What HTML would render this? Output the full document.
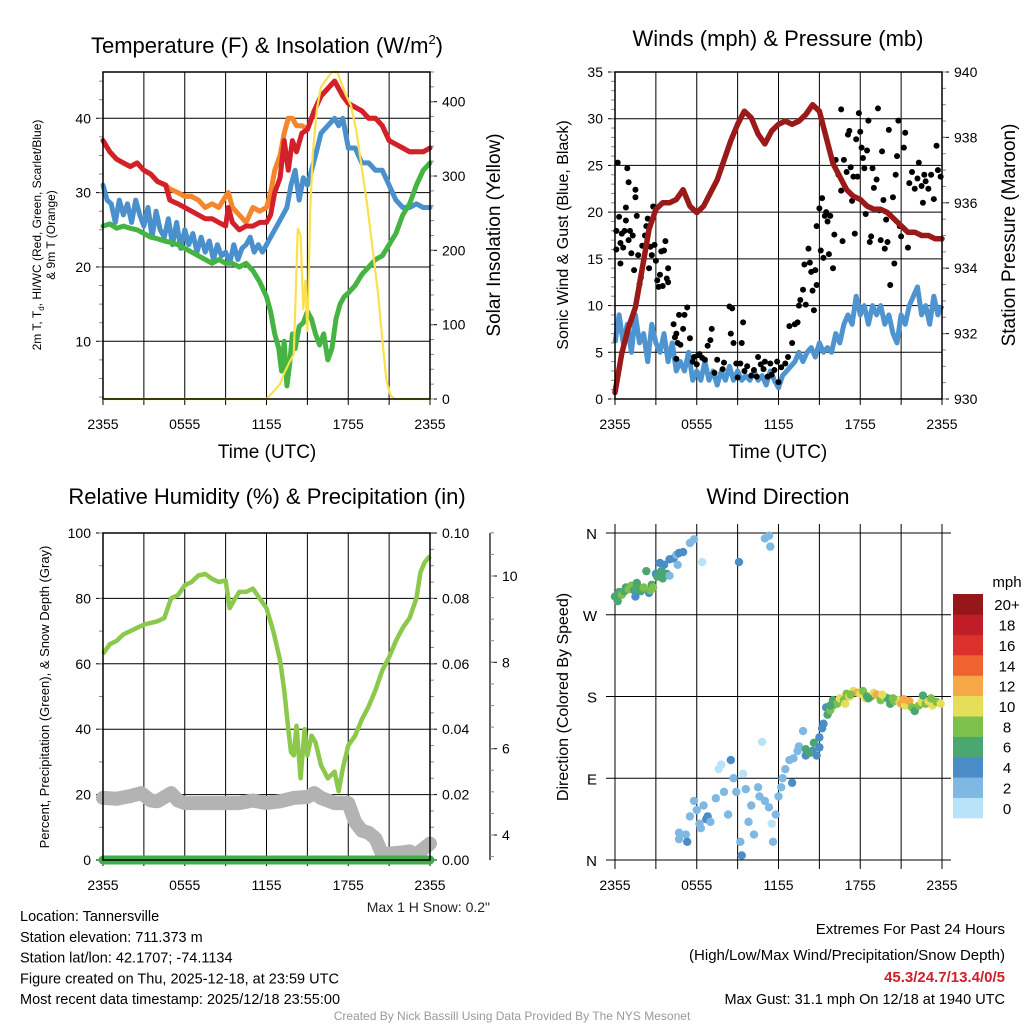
<!DOCTYPE html>
<html><head><meta charset="utf-8"><style>
html,body{margin:0;padding:0;background:#fff;}
svg{display:block;font-family:"Liberation Sans",Arial,sans-serif;}
</style></head><body>
<svg id="s" width="1024" height="1024" viewBox="0 0 1024 1024" xmlns="http://www.w3.org/2000/svg"></svg>
<script>
// ---------- DATA ----------
const timeTicks=["2355","0555","1155","1755","2355"];
// Panel 1 (hours since 2355, value)
const tRedH=[0,0.5,1,1.5,2,2.5,3,3.5,4,4.6,4.9,5.5,6,6.5,7,7.5,8,8.5,9,9.2,9.5,10,10.5,11,11.5,12,12.3,12.6,13,13.3,13.6,13.9,14.2,14.6,15,15.5,16,16.5,17,17.3,17.6,18,18.5,19,19.5,20,20.5,21,21.5,22,22.5,23,23.5,24];
const tRed=[37,35.5,34.5,34,33.5,34,33,32.5,31.5,31,29,28.5,28,27.5,27,26.5,26.5,26,25.5,28,26,25,25.5,25.5,26,26,27,30,32,37,33,37,35.5,38,38.5,41,43,44,45,44,43,42,41.5,41,40,40,39,37,36.5,36,35.5,35.5,35.5,36];
const tOrange=[37,35.5,34.5,34,33.5,34,33,32.5,31.5,31,30.5,30,29.5,29.5,29,28,28.5,28,29.5,30,28,27,26,28,27.5,28,30,33,35,38,40,40,39,39,38.5,41,43,44,45,44,43,42,41.5,41,40,40,39,37,36.5,36,35.5,35.5,35.5,36];
const tBlueH=[0,0.3,0.6,0.9,1.2,1.5,1.8,2.1,2.4,2.7,3,3.3,3.6,3.9,4.2,4.5,4.8,5.1,5.4,5.7,6,6.3,6.6,6.9,7.2,7.5,7.8,8.1,8.4,8.7,9,9.3,9.6,9.9,10.2,10.5,10.8,11.1,11.4,11.7,12,12.3,12.6,12.9,13.2,13.5,13.8,14.1,14.4,14.7,15,15.3,15.6,16,16.5,17,17.3,17.6,18,18.5,19,19.5,20,20.5,21,21.5,22,22.5,23,23.5,24];
const tBlue=[31,29,28.5,26,29,27,28.5,26,29,27,25.5,28,24,27.5,25,24,26.5,23,26,22.5,25,23,24.5,22,24,22,23.5,21,23,21.5,22,20.5,23,21,22.5,23,24,22,23,22,23,24,25,26,27,28,31,33,29,32,31,33,35,38,39,40,39,40,36,36,34,34,33,33,31,29,28,28,28.5,28,28];
const tGreenH=[0,0.5,1,1.5,2,2.5,3,3.5,4,4.5,5,5.5,6,6.5,7,7.5,8,8.5,9,9.5,10,10.5,11,11.5,12,12.3,12.6,12.9,13.1,13.3,13.5,13.7,13.9,14.1,14.4,14.7,15,15.3,15.6,15.9,16.2,16.5,16.8,17.1,17.4,17.7,18,18.5,19,19.5,20,20.5,21,21.5,22,22.5,23,23.5,24];
const tGreen=[25.5,25.8,25.2,25.5,25.2,25,24.5,24,23.8,23.5,23.3,23,22.5,22,21.5,21,20.5,21,20.5,20.5,20,20.5,19.5,18,16,14,11,9,6,10,4,7,11,9,12,12.5,14,13,11,9.5,11,7.5,9,13,15,16,16.5,17.5,19,20,21,21.5,23,24.5,27,28.5,31,33,34];
const solH=[0,12,12.5,13,13.3,13.7,14,14.3,14.5,14.7,14.85,15,15.2,15.4,15.7,16,16.4,16.8,17.2,17.5,17.8,18.2,18.6,19,19.4,19.8,20.2,20.5,20.8,21.1,21.4,24];
const sol=[0,0,10,20,35,50,60,230,220,120,160,90,250,330,390,420,430,440,440,425,410,395,360,310,260,200,140,80,25,5,0,0];
// Panel 2
const presH=[0,0.5,1,1.5,2,2.5,3,3.5,4,4.5,5,5.5,6,6.5,7,7.5,8,8.5,9,9.5,10,10.5,11,11.5,12,12.5,13,13.5,14,14.5,15,15.5,16,16.5,17,17.5,18,18.5,19,19.5,20,20.5,21,21.5,22,22.5,23,23.5,24];
const pres=[930.2,931.4,932.2,932.8,934.0,935.2,935.8,936.0,936.0,936.1,936.4,935.9,935.7,935.9,936.3,936.7,937.3,937.9,938.4,938.8,938.6,938.1,937.8,938.2,938.4,938.5,938.4,938.5,938.7,939.0,938.8,938.0,937.2,936.8,936.4,936.2,936.1,935.9,935.8,935.8,935.7,935.5,935.3,935.1,935.1,935.0,935.0,934.9,934.9];
const windH=[0,0.3,0.6,0.9,1.2,1.5,1.8,2.1,2.4,2.7,3,3.3,3.6,3.9,4.2,4.5,4.8,5.1,5.4,5.7,6,6.3,6.6,6.9,7.2,7.5,7.8,8.1,8.4,8.7,9,9.3,9.6,9.9,10.2,10.5,10.8,11.1,11.4,11.7,12,12.3,12.6,12.9,13.2,13.5,13.8,14.1,14.4,14.7,15,15.3,15.6,15.9,16.2,16.5,16.8,17.1,17.4,17.7,18,18.3,18.6,18.9,19.2,19.5,19.8,20.1,20.4,20.7,21,21.3,21.6,21.9,22.2,22.5,22.8,23.1,23.4,23.7,24];
const wind=[6,9,6,8,5,9,6,7,4,8,6,5,7,4,6,3,4,3,5,2,3,2,4,2,3,1.5,3,2,3.5,2,3,2,2.5,2,3,2,2.5,1.5,3,2,1.2,2.5,3,3.5,4,5,4,5,5.5,4.5,6,5,5.5,5,7,6,8,9,8,11,9,10,8,10,9,10,8,9,7,6,9,8,10,11,12,9,10,8,11,9,10];
const gustH=[0.1,0.1,0.2,0.3,0.4,0.4,0.5,0.6,0.7,0.8,0.8,0.9,1,1,1.1,1.2,1.3,1.4,1.5,1.5,1.6,1.7,1.8,1.9,2,2.2,2.3,2.4,2.5,2.6,2.7,2.8,2.9,3,3.1,3.2,3.3,3.4,3.5,3.6,3.7,3.8,3.9,3.9,4.3,4.4,4.5,4.5,4.6,4.7,4.8,5,5.1,5.3,5.5,5.7,5.8,6,6.1,6.2,6.4,6.6,6.8,7,7.1,7.3,7.5,7.9,8,8.4,8.6,8.5,8.7,8.9,9,9.2,9.3,9.4,9.5,9.7,10,10.2,10.4,10.5,10.7,10.9,11,11.2,11.4,11.5,11.7,11.9,12,12.2,12.5,12.7,12.8,13,13.2,13.4,13.5,13.6,13.8,13.9,14,14.2,14.3,14.4,14.5,14.6,14.7,14.8,14.8,15,15.1,15.2,15.3,15.4,15.5,15.6,15.7,15.8,16,16.1,16.2,16.4,16.6,16.6,16.7,16.8,17,17.1,17.2,17.3,17.4,17.5,17.6,17.7,17.8,17.9,18,18.1,18.2,18.3,18.4,18.5,18.6,18.7,18.8,18.9,19,19.2,19.3,19.4,19.5,19.6,19.7,19.8,19.9,20,20.1,20.2,20.4,20.5,20.6,20.7,20.8,20.9,21,21.2,21.3,21.5,21.6,21.8,22,22.2,22.3,22.5,22.6,22.7,22.8,23,23.2,23.4,23.6,23.7,23.9];
const gust=[16,18,25.3,19.5,16.7,14.5,17.7,16.2,18,20.5,19.1,24.7,17,23.2,18,15.6,17.5,13.8,22.4,21.6,19.6,15.4,12.3,13,16.4,17.5,18.5,19.3,14,16.3,15.4,20.6,16.5,14.8,12.7,12,13.3,15.8,12.1,15.9,16.9,12.9,14,12.5,8,6.6,7,4.3,6,9,5.8,7.5,9,9.8,6.5,4,4.5,3.7,4.7,4.8,4.4,4.2,5.7,6.3,7.5,2.8,4.2,3.2,3.9,9.9,9.7,7,6,3.8,2.3,3.8,6,8.2,3,3.5,2.5,3.1,2.4,4.5,3.7,3.2,4,2.4,3.8,2.6,3.1,4,1.8,3.4,3.8,4.5,7.8,6,8,8.2,10,10.6,11.7,14.4,10.1,16.1,14.6,13.6,11.6,9.5,13.8,12.2,18.5,20.4,15.9,21.5,15.1,19.6,20,19,15.5,19.6,14,17.6,25.6,24,22.3,31,16.9,25.6,24.3,28.3,28.7,24.8,21.2,23.8,17.7,27.8,23.8,30.6,28.6,26.9,25.8,24.7,19.8,26.6,29.8,16.8,17.4,24.7,22.6,23.5,31.1,20.2,17,26.5,21.3,16.1,19.2,16.8,28.8,12.2,21.6,14.5,24,26,29.8,18.5,17.4,26.9,28.5,16.2,23.1,24.3,22.5,23.6,25.3,22.8,21,24,23.3,22.5,24,21.4,27.1,24.5,23.8];
// Panel 3
const rhH=[0,0.5,1,1.5,2,2.5,3,3.5,4,4.5,5,5.5,6,6.5,7,7.5,8,8.5,9,9.3,9.7,10,10.5,11,11.5,12,12.5,13,13.3,13.6,13.8,14,14.2,14.5,14.8,15,15.3,15.6,16,16.5,17,17.3,17.6,18,18.5,19,19.5,20,20.5,21,21.5,22,22.5,23,23.3,23.6,24];
const rh=[63,66,67,69,70,71,72,72.5,73,74,80,81,84,85,87,87.5,86,85,85.5,77,80,82,82,83,80,77,70,61,52,40,33,32,41,25,40,32,38,36,29,25,27,21,28,35,38,43,47,52,58,62,67,71,74,80,88,91,93];
const snowH=[0,1,2,2.8,3.5,4,5,5.5,6,8,10,11,12,13,14,15,15.5,16,17,18,18.5,19,19.5,20,20.5,21,22,22.5,23,24];
const snow=[4.86,4.84,4.9,4.97,4.8,4.78,4.97,4.8,4.74,4.74,4.74,4.8,4.74,4.78,4.86,4.88,4.97,4.86,4.74,4.74,4.3,4.1,4.05,3.92,3.55,3.57,3.6,3.62,3.55,3.8];
const precipH=[0,24];
const precip=[0,0];
// Panel 4
const dirH=[0,0.2,0.3,0.5,0.7,0.8,1,1.2,1.4,1.5,1.6,1.7,1.9,2.1,2.3,2.5,2.6,2.7,2.8,3,3.1,3.3,3.4,3.5,3.6,3.8,4,4,4.3,4.5,4.7,4.6,5,5.5,5.8,6.4,9.1,11,11.3,11.4,4.7,4.7,5.2,5.3,5.5,5.8,6,6.2,6.3,6.5,6.7,6.8,7,7.4,7.6,7.8,8,8.3,8.5,8.7,8.9,9.2,9.3,9.4,9.6,9.8,10,10.2,10.5,10.6,10.8,11,11.3,11.5,11.6,11.8,12,12.2,12.3,12.5,12.8,13,13.1,13.4,13.5,14,14.5,13.8,14,14.3,14.6,14.8,15,15,15.2,15.3,15.5,15.6,15.8,16,16,16.3,16.5,16.8,17,17.2,17.5,17.8,18,18.2,18.4,18.5,18.8,19,19.2,19.5,19.8,20,20.2,20.5,20.8,21,21.3,21.6,21.8,22,22.3,22.5,22.8,23,23.3,23.6,23.9,15.8,16.9,17.3,18.6,19.6,20.4,21.2,22.6,23.2];
const dirDeg=[290,285,295,292,296,300,298,302,297,290,305,300,296,300,318,294,297,303,300,315,312,327,318,310,325,315,313,331,332,336,338,325,339,349,353,328,328,354,357,345,23,30,28,20,48,65,55,40,35,60,45,48,42,68,100,105,75,50,110,90,75,20,5,95,78,42,60,28,80,70,130,65,58,40,20,50,70,80,90,100,110,85,112,120,125,115,120,142,122,118,129,115,124,135,145,150,168,160,165,170,176,172,178,176,183,180,186,184,183,186,178,180,180,184,182,176,180,178,172,175,176,172,170,175,168,164,170,174,172,175,170,174,172,170,172,182,178,182,178,177,181,178];
const dirSpd=[6,7,6,8,7,6,8,8,6,4,6,7,6,8,6,4,8,6,8,4,6,4,6,6,4,6,2,4,4,2,4,2,4,2,2,0,4,2,2,2,2,2,2,4,2,2,2,2,2,2,4,4,2,2,0,0,2,2,4,2,2,2,4,0,2,2,2,2,2,2,0,2,2,0,2,2,2,2,2,2,2,4,2,2,2,4,4,2,6,6,6,4,4,4,4,4,4,6,8,8,6,8,10,8,8,10,10,12,10,8,10,6,8,10,12,8,10,6,6,8,10,12,10,12,8,6,8,10,8,10,10,8,10,6,10,8,6,10,8,12,6,8];
const cbLabels=["0","2","4","6","8","10","12","14","16","18","20+"];
const cbColors=["#b9e3f8","#7fb8e3","#4a8dc7","#4aa772","#7cc14b","#e5de59","#f5a845","#ef6330","#dc302c","#bf1d27","#95161b"];

// ---------- DRAW ----------
const NS="http://www.w3.org/2000/svg";
const svg=document.getElementById('s');
function el(tag,attrs,parent){const e=document.createElementNS(NS,tag);for(const k in attrs)e.setAttribute(k,attrs[k]);(parent||svg).appendChild(e);return e;}
function txt(x,y,s,size,anchor,parent,extra){const t=el('text',Object.assign({x:x,y:y,'font-size':size,'text-anchor':anchor||'middle',fill:'#000'},extra||{}),parent);t.textContent=s;return t;}
function lin(d0,d1,r0,r1){return v=>r0+(v-d0)*(r1-r0)/(d1-d0);}
function pathD(xs,ys,fx,fy){let d='';for(let i=0;i<xs.length;i++)d+=(i?'L':'M')+fx(xs[i]).toFixed(1)+','+fy(ys[i]).toFixed(1);return d;}

function timeAxis(g,x0,x1,yb,fx,yTop){
  for(let h=0;h<=24;h+=3){const x=fx(h);
    const l=el('line',{x1:x,x2:x,y1:yTop,y2:yb+6,stroke:'#000','stroke-width':1},g);
    }
  timeTicks.forEach((s,i)=>{const t=txt(fx(i*6),yb+30,s,14,'middle',g);
    });
}
function yAxis(g,x,ticks,fy,labels,side,minorStep,dmin,dmax,gridX1){
  ticks.forEach((v,i)=>{const y=fy(v);
    if(gridX1!==undefined){const gl=el('line',{x1:x,x2:gridX1,y1:y,y2:y,stroke:'#000','stroke-width':1},g);
      }
    el('line',{x1:x,x2:x+(side<0?-7:7),y1:y,y2:y,stroke:'#000','stroke-width':1},g);
    const t=txt(x+(side<0?-12:12),y+5,labels[i],14,side<0?'end':'start',g);
    });
  if(minorStep){for(let v=Math.ceil(dmin/minorStep)*minorStep;v<=dmax;v+=minorStep){const y=fy(v);
    el('line',{x1:x,x2:x+(side<0?-4:4),y1:y,y2:y,stroke:'#888','stroke-width':1},g);}}
}

// ===== Panel 1 =====
(function(){
  const g=el('g',{});
  const X0=103,X1=430,YT=72,YB=399;
  const fx=lin(0,24,X0,X1), fy=lin(10,40,341.3,118.3), fr=lin(0,400,399,101.7);
  const tt=txt(267,53,'Temperature (F) & Insolation (W/m',22,'middle',g);
  const sup=el('tspan',{'font-size':13,dy:-9},tt);sup.textContent='2';
  const cl=el('tspan',{dy:9},tt);cl.textContent=')';
  
  timeAxis(g,X0,X1,YB,fx,YT);
  yAxis(g,X0,[10,20,30,40],fy,['10','20','30','40'],-1,2.5,2.5,46,X1);
  yAxis(g,X1,[0,100,200,300,400],fr,['0','100','200','300','400'],1,20,0,440);
  const series=[[tOrange,tRedH,'#f5862b','temp-9m-line'],[tRed,tRedH,'#d4202b','temp-2m-line'],[tBlue,tBlueH,'#4990cc','windchill-line'],[tGreen,tGreenH,'#46b443','dewpoint-line']];
  series.forEach(s=>{const p=el('path',{d:pathD(s[1],s[0],fx,fy),fill:'none',stroke:s[2],'stroke-width':5,'stroke-linejoin':'round','stroke-linecap':'round'},g);
    });
  const ps=el('path',{d:pathD(solH,sol,fx,fr),fill:'none',stroke:'#fbe04d','stroke-width':2.2},g);
  
  el('rect',{x:X0,y:YT,width:X1-X0,height:YB-YT,fill:'none',stroke:'#000','stroke-width':1.5},g);
  const lt=el('text',{transform:'translate(41,235) rotate(-90)','font-size':12,'text-anchor':'middle'},g);
  lt.textContent='2m T, T';const sb=el('tspan',{'font-size':8,dy:3},lt);sb.textContent='d';const r=el('tspan',{dy:-3},lt);r.textContent=', HI/WC (Red, Green, Scarlet/Blue)';
  
  const lt2=el('text',{transform:'translate(55,235) rotate(-90)','font-size':12,'text-anchor':'middle'},g);lt2.textContent='& 9m T (Orange)';
  const rt=el('text',{transform:'translate(500,235) rotate(-90)','font-size':19,'text-anchor':'middle'},g);rt.textContent='Solar Insolation (Yellow)';
  
  const xt=txt(267,458,'Time (UTC)',19,'middle',g);
})();

// ===== Panel 2 =====
(function(){
  const g=el('g',{});
  const X0=615,X1=942,YT=72,YB=399;
  const fx=lin(0,24,X0,X1), fy=lin(0,35,YB,YT), fr=lin(930,940,YB,YT);
  const tt=txt(778,46,'Winds (mph) & Pressure (mb)',22,'middle',g);
  timeAxis(g,X0,X1,YB,fx,YT);
  yAxis(g,X0,[0,5,10,15,20,25,30,35],fy,['0','5','10','15','20','25','30','35'],-1,1,0,35,X1);
  yAxis(g,X1,[930,932,934,936,938,940],fr,['930','932','934','936','938','940'],1,0.5,930,940);
  const pw=el('path',{d:pathD(windH,wind,fx,fy),fill:'none',stroke:'#4d94d0','stroke-width':5,'stroke-linejoin':'round'},g);
  
  for(let i=0;i<gustH.length;i++){const c=el('circle',{cx:fx(gustH[i]),cy:fy(gust[i]),r:3,fill:'#000'},g);
    }
  const pp=el('path',{d:pathD(presH,pres,fx,fr),fill:'none',stroke:'#9a1a1a','stroke-width':5.5,'stroke-linejoin':'round','stroke-linecap':'round'},g);
  
  el('rect',{x:X0,y:YT,width:X1-X0,height:YB-YT,fill:'none',stroke:'#000','stroke-width':1.5},g);
  const lt=el('text',{transform:'translate(568,235) rotate(-90)','font-size':16,'text-anchor':'middle'},g);lt.textContent='Sonic Wind & Gust (Blue, Black)';
  
  const rt=el('text',{transform:'translate(1015,235) rotate(-90)','font-size':19,'text-anchor':'middle'},g);rt.textContent='Station Pressure (Maroon)';
  
  const xt=txt(778,458,'Time (UTC)',19,'middle',g);
})();

// ===== Panel 3 =====
(function(){
  const g=el('g',{});
  const X0=103,X1=430,YT=533,YB=860;
  const fx=lin(0,24,X0,X1), fy=lin(0,100,YB,YT), fp=lin(0,0.1,YB,YT), fs=lin(4,10,835,576);
  const tt=txt(267,504,'Relative Humidity (%) & Precipitation (in)',22,'middle',g);
  timeAxis(g,X0,X1,YB,fx,YT);
  yAxis(g,X0,[0,20,40,60,80,100],fy,['0','20','40','60','80','100'],-1,10,0,100,X1);
  yAxis(g,X1,[0,0.02,0.04,0.06,0.08,0.1],fp,['0.00','0.02','0.04','0.06','0.08','0.10'],1,0.005,0,0.1);
  el('line',{x1:490,x2:490,y1:533,y2:860,stroke:'#000','stroke-width':1.2},g);
  yAxis(g,490,[4,6,8,10],fs,['4','6','8','10'],1,0.5,3.5,11);
  const ps=el('path',{d:pathD(snowH,snow,fx,fs),fill:'none',stroke:'#b3b3b3','stroke-width':14,'stroke-linejoin':'round','stroke-linecap':'round'},g);
  
  const pr=el('path',{d:pathD(precipH,precip,fx,fp),fill:'none',stroke:'#3fae49','stroke-width':9,'stroke-linecap':'round'},g);
  
  const ph=el('path',{d:pathD(rhH,rh,fx,fy),fill:'none',stroke:'#8cc84b','stroke-width':4.5,'stroke-linejoin':'round'},g);
  
  el('rect',{x:X0,y:YT,width:X1-X0,height:YB-YT,fill:'none',stroke:'#000','stroke-width':1.5},g);
  const lt=el('text',{transform:'translate(49,697) rotate(-90)','font-size':13,'text-anchor':'middle'},g);lt.textContent='Percent, Precipitation (Green), & Snow Depth (Gray)';
  
  const ms=txt(490,912,'Max 1 H Snow: 0.2"',14,'end',g,{fill:'#222'});
})();

// ===== Panel 4 =====
(function(){
  const g=el('g',{});
  const X0=615,X1=942,YT=533,YB=860;
  const fx=lin(0,24,X0,X1), fy=lin(0,360,YB,YT);
  const tt=txt(778,504,'Wind Direction',22,'middle',g);
  for(let h=0;h<=24;h+=3){const x=fx(h);el('line',{x1:x,x2:x,y1:524,y2:869,stroke:'#000','stroke-width':1},g);}
  timeTicks.forEach((s,i)=>{const t=txt(fx(i*6),YB+30,s,14,'middle',g);});
  ['N','E','S','W','N'].forEach((s,i)=>{const y=fy(i*90);el('line',{x1:606,x2:951,y1:y,y2:y,stroke:'#000','stroke-width':1},g);
    const t=txt(597,y+6,s,15,'end',g);});
  for(let i=0;i<dirH.length;i++){const ci=Math.min(10,Math.floor(dirSpd[i]/2));
    const c=el('circle',{cx:fx(dirH[i]),cy:fy(dirDeg[i]),r:4.2,fill:cbColors[ci]},g);
    }
  const lt=el('text',{transform:'translate(568,697) rotate(-90)','font-size':16,'text-anchor':'middle'},g);lt.textContent='Direction (Colored By Speed)';
  
  const cb=el('g',{},g);
  const h=(818-594)/11;
  cbColors.forEach((c,i)=>{const y=818-(i+1)*h;el('rect',{x:953,y:y,width:30,height:h+0.3,fill:c},cb);
    const t=txt(1007,y+h/2+6,cbLabels[i],15,'middle',cb);});
  txt(1007,587,'mph',15,'middle',cb);
})();

// ===== Footer text =====
(function(){
  const g=el('g',{});
  ['Location: Tannersville','Station elevation: 711.373 m','Station lat/lon: 42.1707; -74.1134','Figure created on Thu, 2025-12-18, at 23:59 UTC','Most recent data timestamp: 2025/12/18 23:55:00']
   .forEach((s,i)=>{txt(20,921+i*20.8,s,14.5,'start',g);});
  const g2=el('g',{});
  txt(1005,934,'Extremes For Past 24 Hours',15,'end',g2);
  txt(1005,960,'(High/Low/Max Wind/Precipitation/Snow Depth)',15,'end',g2);
  txt(1005,982,'45.3/24.7/13.4/0/5',15,'end',g2,{fill:'#d0202a','font-weight':'bold'});
  txt(1005,1004,'Max Gust: 31.1 mph On 12/18 at 1940 UTC',14.5,'end',g2);
  const c=txt(512,1020,'Created By Nick Bassill Using Data Provided By The NYS Mesonet',12,'middle',svg,{fill:'#999'});
  
})();
</script>
</body></html>
